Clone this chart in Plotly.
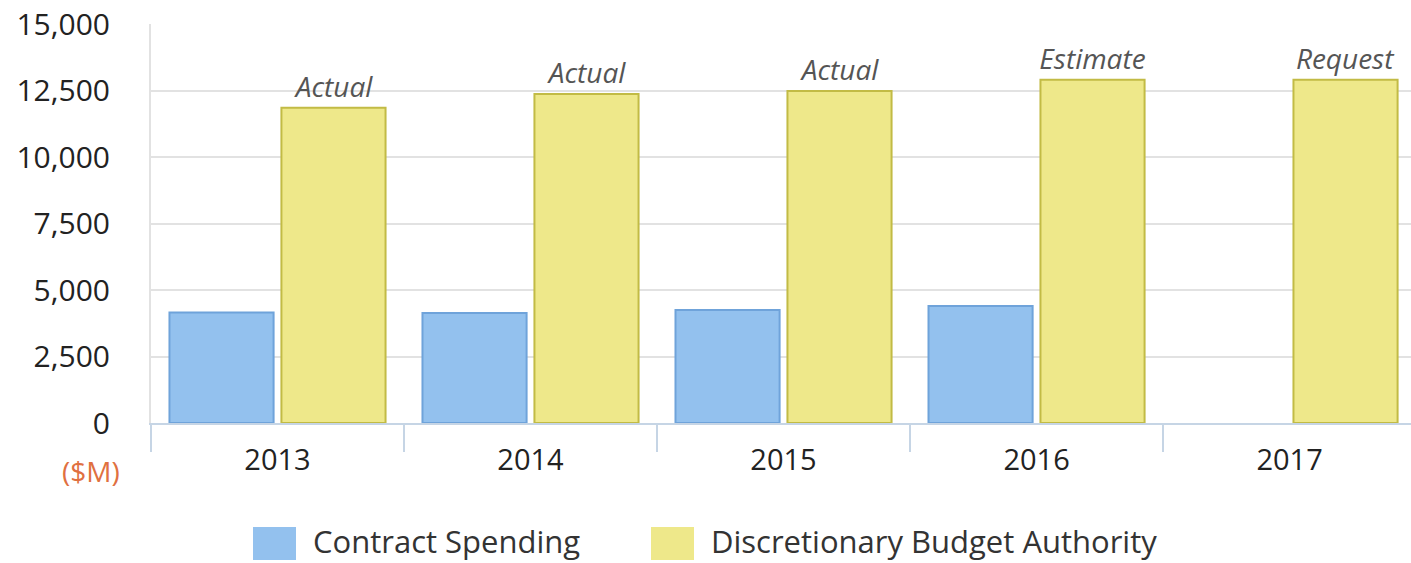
import plotly.graph_objects as go

years = ["2013", "2014", "2015", "2016", "2017"]
contract_spending = [4150, 4140, 4250, 4400, None]
discretionary_budget = [11850, 12370, 12480, 12900, 12900]
status_labels = ["Actual", "Actual", "Actual", "Estimate", "Request"]
y_ticks = [0, 2500, 5000, 7500, 10000, 12500, 15000]

FONT = "Open Sans"
BLUE_FILL = "#93C1EE"
BLUE_LINE = "#6FA3DA"
YEL_FILL = "#EEE88A"
YEL_LINE = "#C2BB45"

fig = go.Figure()
fig.add_trace(go.Bar(
    x=years, y=contract_spending, name="Contract Spending",
    marker=dict(color=BLUE_FILL, line=dict(color=BLUE_LINE, width=2)),
    showlegend=False,
))
fig.add_trace(go.Bar(
    x=years, y=discretionary_budget, name="Discretionary Budget Authority",
    marker=dict(color=YEL_FILL, line=dict(color=YEL_LINE, width=2)),
    text=["<i>" + s + "</i>" for s in status_labels],
    textposition="outside", constraintext="none", cliponaxis=False,
    textfont=dict(family=FONT, size=28, color="#555555"),
    showlegend=False,
))

fig.update_layout(
    width=1411, height=563,
    margin=dict(l=151, r=0, t=24, b=140),
    paper_bgcolor="white", plot_bgcolor="white",
    barmode="group", bargap=0.115, bargroupgap=0.07,
    font=dict(family=FONT, size=26, color="#222222"),
    xaxis=dict(
        type="category", range=[-0.5, 4.48],
        showgrid=False, showline=True, linecolor="#C6D5E5", linewidth=2,
        ticks="outside", tickson="boundaries", ticklen=27, tickwidth=2,
        tickcolor="#C6D5E5", ticklabelstandoff=10,
        tickfont=dict(family=FONT, size=29, color="#222222"),
    ),
    yaxis=dict(
        range=[0, 15000], tickvals=y_ticks,
        tickformat=",d", showgrid=True, gridcolor="#E2E2E2", gridwidth=2,
        zeroline=False, showline=True, linecolor="#E2E2E2", linewidth=2,
        ticks="", ticklabelstandoff=33,
        tickfont=dict(family=FONT, size=30, color="#222222"),
    ),
)

# ($M) unit label
fig.add_annotation(
    text="($M)", xref="paper", yref="paper", x=-0.048, y=-0.12,
    xanchor="center", yanchor="middle", showarrow=False,
    font=dict(family=FONT, size=28, color="#E07040"),
)

# Legend (drawn with swatches + text)
legend_items = [
    ("Contract Spending", BLUE_FILL, BLUE_LINE, 253),
    ("Discretionary Budget Authority", YEL_FILL, YEL_LINE, 651),
]
for label, fill, line, px in legend_items:
    x0 = (px - 151) / 1260
    x1 = (px + 43 - 151) / 1260
    y0 = (423 - 560) / 399
    y1 = (423 - 527) / 399
    fig.add_shape(type="rect", xref="paper", yref="paper",
                  x0=x0, x1=x1, y0=y0, y1=y1,
                  fillcolor=fill, line=dict(color=fill, width=0))
    fig.add_annotation(
        text=label, xref="paper", yref="paper",
        x=(px + 58 - 151) / 1260, y=(423 - 541) / 399,
        xanchor="left", yanchor="middle", showarrow=False,
        font=dict(family=FONT, size=31, color="#333333"),
    )

fig.write_html("out.html")
